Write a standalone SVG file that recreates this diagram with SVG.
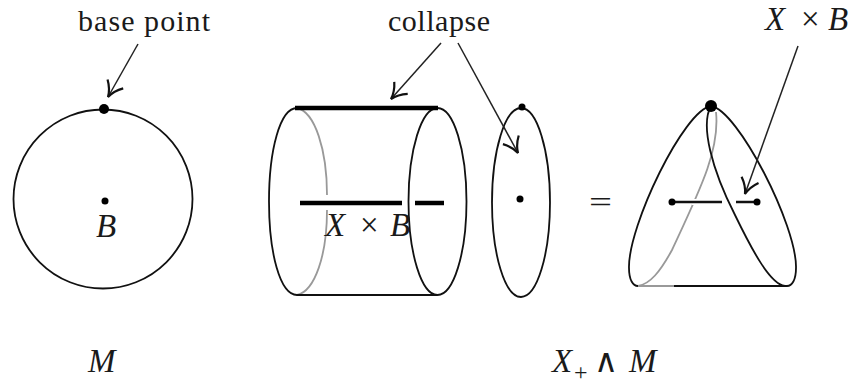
<svg xmlns="http://www.w3.org/2000/svg" width="857" height="385" viewBox="0 0 857 385">
<style>
.c{fill:none;stroke:#111;stroke-width:1.8}
.g{fill:none;stroke:#999;stroke-width:1.8}
.t{fill:none;stroke:#000;stroke-width:4.500}
.a{fill:none;stroke:#222;stroke-width:1.5;marker-end:url(#arr)}
text{font-family:"Liberation Serif",serif;font-size:30px;fill:#1a1a1a}
.i{font-style:italic;font-size:33px}
</style>
<defs><marker id="arr" markerUnits="userSpaceOnUse" markerWidth="24" markerHeight="24" refX="20" refY="12" orient="auto"><path d="M5 3Q12 10 20 12Q12 14 5 21" fill="none" stroke="#111" stroke-width="2.200"/></marker></defs>
<rect width="857" height="385" fill="#fff"/>
<g id="sphere">
<circle class="c" cx="103" cy="199" r="89.500"/>
<circle cx="104" cy="109" r="5"/>
<circle cx="105" cy="201" r="3.500"/>
<text class="i" x="96" y="237">B</text>
<text class="i" x="88" y="372">M</text>
<text x="78" y="31" textLength="132" lengthAdjust="spacing">base point</text>
</g>
<g id="cylinder">
<path class="g" d="M297 108C315 112 327 150 327 195M327 210C327 255 315 291 297 295"/>
<path class="c" d="M297 108C280 108 269 150 269 201.500C269 253 280 295 297 295"/>
<ellipse class="c" cx="437.500" cy="201.500" rx="29" ry="93.500"/>
<line class="c" x1="297" y1="295" x2="437" y2="295"/>
<line class="t" x1="295" y1="108" x2="438" y2="108"/>
<line class="t" x1="300" y1="203" x2="402" y2="203"/>
<line class="t" x1="415" y1="203" x2="444" y2="203"/>
<text class="i" y="236"><tspan x="325">X</tspan><tspan x="360" style="font-style:normal">×</tspan><tspan x="390">B</tspan></text>
</g>
<g id="disc">
<ellipse class="c" cx="521" cy="202.500" rx="29" ry="94.500"/>
<circle cx="522" cy="107" r="3.500"/>
<circle cx="520" cy="199" r="3.500"/>
</g>
<g id="quotient">
<path class="g" d="M716 112C720 150 700 190 672 250C660 272 650 284 638 286"/>
<line class="c" x1="672" y1="286" x2="787" y2="286"/>
<line class="g" x1="638" y1="286" x2="674" y2="286"/>
<path fill="none" stroke="#fff" stroke-width="6" d="M692 202H700"/>
<path class="c" d="M711 106C684 110 628 226 629 268C629 280 633 286 638 286"/>
<path class="c" d="M711 106C738 110 797 226 796 268C796 280 792 286 787 286"/>
<path class="c" d="M711 106C700 125 712 170 735 215C752 250 770 284 785 286"/>
<line x1="672" y1="202" x2="722" y2="202" stroke="#111" stroke-width="2.500"/>
<line x1="736" y1="202" x2="757" y2="202" stroke="#111" stroke-width="2.500"/>
<circle cx="711" cy="106" r="6"/>
<circle cx="672" cy="202" r="3.500"/>
<circle cx="757" cy="202" r="3.500"/>
<text x="589" y="212" textLength="23" lengthAdjust="spacingAndGlyphs">=</text>
<text class="i" x="552" y="372">X</text>
<text x="574" y="380" style="font-size:24px">+</text>
<text x="594" y="372" style="font-family:'DejaVu Sans',sans-serif;font-size:33px">∧</text>
<text class="i" x="629" y="372">M</text>
</g>
<g id="labels">
<text x="388" y="31" textLength="102" lengthAdjust="spacing">collapse</text>
<text class="i" y="30"><tspan x="765">X</tspan><tspan x="801" style="font-style:normal">×</tspan><tspan x="828">B</tspan></text>
</g>
<g id="connectors">
<line class="a" x1="138" y1="44" x2="108" y2="97"/>
<line class="a" x1="441" y1="43" x2="391" y2="99"/>
<line class="a" x1="458" y1="43" x2="518" y2="153"/>
<line class="a" x1="798" y1="46" x2="745" y2="194"/>
</g>
</svg>
